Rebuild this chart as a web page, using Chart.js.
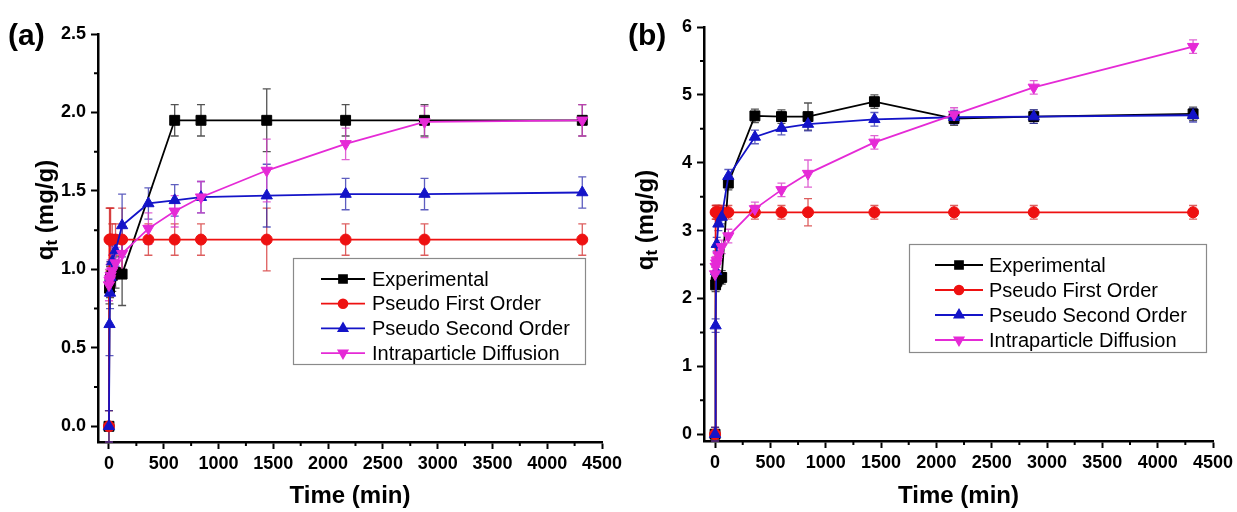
<!DOCTYPE html>
<html>
<head>
<meta charset="utf-8">
<title>Kinetics fits</title>
<script src="https://cdn.jsdelivr.net/npm/chart.js@4.4.1/dist/chart.umd.min.js"></script>
<style>
  body { margin: 0; background: #fff; }
  #wrap { position: relative; width: 1237px; height: 512px; overflow: hidden; }
  canvas { position: absolute; top: 0; }
  #chartA { left: 0; }
  #chartB { left: 618px; }
</style>
</head>
<body>
<div id="wrap">
  <canvas id="chartA" width="630" height="512"></canvas>
  <canvas id="chartB" width="619" height="512"></canvas>
</div>
<script>
// Sampling times (min), shared by every series
const times = [0, 5, 10, 15, 30, 60, 120, 360, 600, 840, 1440, 2160, 2880, 4320];
const seriesNames = ["Experimental", "Pseudo First Order", "Pseudo Second Order", "Intraparticle Diffusion"];

const xTickLabels = ["0", "500", "1000", "1500", "2000", "2500", "3000", "3500", "4000", "4500"];
const yTickLabelsA = ["0.0", "0.5", "1.0", "1.5", "2.0", "2.5"];
const yTickLabelsB = ["0", "1", "2", "3", "4", "5", "6"];

// Panel (a) values, q_t in mg/g
const expA   = [0, 0.88, 0.92, 0.95, 0.96, 0.98, 0.97, null, 1.95, 1.95, 1.95, 1.95, 1.95, 1.95];
const pfoA   = [0, 1.19, 1.19, 1.19, 1.19, 1.19, 1.19, 1.19, 1.19, 1.19, 1.19, 1.19, 1.19, 1.19];
const psoA   = [0, 0.65, 0.85, 0.95, 1.05, 1.12, 1.28, 1.42, 1.44, 1.46, 1.47, 1.48, 1.48, 1.49];
const idA    = [0.90, 0.93, 0.94, 0.96, 0.99, 1.04, 1.10, 1.26, 1.37, 1.46, 1.63, 1.80, 1.94, 1.95];
const expAErr = [0.1, 0.1, 0.1, 0.1, 0.1, 0.1, 0.2, null, 0.1, 0.1, 0.2, 0.1, 0.1, 0.1];
const pfoAErr = [0.1, 0.2, 0.2, 0.2, 0.1, 0.1, 0.2, 0.1, 0.1, 0.1, 0.2, 0.1, 0.1, 0.1];
const psoAErr = [0.1, 0.2, 0.1, 0.1, 0.1, 0.1, 0.2, 0.1, 0.1, 0.1, 0.2, 0.1, 0.1, 0.1];
const idAErr  = [0.1, 0.1, 0.1, 0.1, 0.1, 0.1, 0.1, 0.1, 0.1, 0.1, 0.2, 0.1, 0.1, 0.1];

// Panel (b) values, q_t in mg/g
const expB   = [0, 2.20, 2.24, 2.27, 2.29, 2.31, 3.70, 4.69, 4.68, 4.68, 4.90, 4.65, 4.68, 4.72];
const pfoB   = [0, 3.27, 3.27, 3.27, 3.27, 3.27, 3.27, 3.27, 3.27, 3.27, 3.27, 3.27, 3.27, 3.27];
const psoB   = [0, 1.60, 2.40, 2.80, 3.10, 3.20, 3.80, 4.38, 4.51, 4.57, 4.64, 4.67, 4.68, 4.70];
const idB    = [2.36, 2.47, 2.52, 2.56, 2.64, 2.76, 2.92, 3.32, 3.60, 3.84, 4.30, 4.71, 5.11, 5.71];
const expBErr = [0.1, 0.1, 0.1, 0.1, 0.1, 0.1, 0.1, 0.1, 0.1, 0.2, 0.1, 0.1, 0.1, 0.1];
const pfoBErr = [0.1, 0.1, 0.1, 0.1, 0.1, 0.1, 0.1, 0.1, 0.1, 0.2, 0.1, 0.1, 0.1, 0.1];
const psoBErr = [0.1, 0.1, 0.1, 0.1, 0.1, 0.1, 0.1, 0.1, 0.1, 0.1, 0.1, 0.1, 0.1, 0.1];
const idBErr  = [0.1, 0.1, 0.1, 0.1, 0.1, 0.1, 0.1, 0.1, 0.1, 0.2, 0.1, 0.1, 0.1, 0.1];

const FONT = "'Liberation Sans', Arial, sans-serif";
Chart.defaults.font.family = FONT;
Chart.defaults.color = "#000";

const seriesStyle = [
  { color: "#000000", errorColor: "rgba(40,40,40,0.8)",  pointStyle: "rect",     radius: 7,   rotation: 0,   order: 4 },
  { color: "#ee1111", errorColor: "rgba(210,40,40,0.75)", pointStyle: "circle",   radius: 5.5, rotation: 0,   order: 3 },
  { color: "#1414c8", errorColor: "rgba(40,40,170,0.75)", pointStyle: "triangle", radius: 6.5, rotation: 0,   order: 2 },
  { color: "#e52ad6", errorColor: "rgba(215,60,200,0.8)", pointStyle: "triangle", radius: 6.5, rotation: 180, order: 1 },
];

const panels = [
  {
    canvasId: "chartA", tag: "(a)", values: [expA, pfoA, psoA, idA], errors: [expAErr, pfoAErr, psoAErr, idAErr],
    yMin: -0.1, yMax: 2.5, yStep: 0.25, yLabels: yTickLabelsA,
    area: { left: 98, top: 34, right: 602, bottom: 442 }, width: 630,
    tagPos: { x: 8, y: 45 }, yTitle: { x: 46, y: 210 },
    legend: { left: 293, top: 258, width: 292, height: 106, row0: 21, rowGap: 24.7, sampleX: 28, sampleLen: 44, textX: 79 },
  },
  {
    canvasId: "chartB", tag: "(b)", values: [expB, pfoB, psoB, idB], errors: [expBErr, pfoBErr, psoBErr, idBErr],
    yMin: -0.1, yMax: 6, yStep: 0.5, yLabels: yTickLabelsB,
    area: { left: 86, top: 27, right: 595, bottom: 441 }, width: 619,
    tagPos: { x: 10, y: 45 }, yTitle: { x: 28, y: 220 },
    legend: { left: 291, top: 244, width: 297, height: 108, row0: 21, rowGap: 25, sampleX: 26, sampleLen: 48, textX: 80 },
  },
];

const near = (a, b) => Math.abs(a - b) < 1e-6;
const findLabel = (labels, value) => labels.find((l) => near(Number(l), value));

function makePlugin(panel) {
  return {
    id: "decor",
    // error bars under the lines and markers
    beforeDatasetsDraw(chart) {
      const { ctx, scales: { x, y } } = chart;
      ctx.save();
      ctx.lineWidth = 1.3;
      chart.data.datasets.forEach((ds) => {
        ctx.strokeStyle = ds.errorColor;
        ds.data.forEach((p) => {
          if (p.y == null || !p.err) return;
          const px = x.getPixelForValue(p.x);
          const top = y.getPixelForValue(p.y + p.err);
          const bot = y.getPixelForValue(p.y - p.err);
          ctx.beginPath();
          ctx.moveTo(px, top); ctx.lineTo(px, bot);
          ctx.moveTo(px - 4, top); ctx.lineTo(px + 4, top);
          ctx.moveTo(px - 4, bot); ctx.lineTo(px + 4, bot);
          ctx.stroke();
        });
      });
      ctx.restore();
    },
    afterDraw(chart) {
      const { ctx, chartArea, scales: { x, y } } = chart;
      ctx.save();

      // minor ticks
      ctx.strokeStyle = "#000";
      ctx.lineWidth = 2;
      ctx.beginPath();
      for (let v = 250; v < 4500; v += 500) {
        const px = x.getPixelForValue(v);
        ctx.moveTo(px, chartArea.bottom); ctx.lineTo(px, chartArea.bottom + 4);
      }
      for (let v = panel.yStep; v < panel.yMax; v += panel.yStep * 2) {
        const py = y.getPixelForValue(v);
        ctx.moveTo(chartArea.left, py); ctx.lineTo(chartArea.left - 4, py);
      }
      ctx.stroke();

      // panel tag
      ctx.fillStyle = "#000";
      ctx.font = `bold 30px ${FONT}`;
      ctx.textAlign = "left";
      ctx.textBaseline = "alphabetic";
      ctx.fillText(panel.tag, panel.tagPos.x, panel.tagPos.y);

      // y title with subscript t
      ctx.save();
      ctx.translate(panel.yTitle.x, panel.yTitle.y);
      ctx.rotate(-Math.PI / 2);
      ctx.textBaseline = "middle";
      const big = `bold 24px ${FONT}`, small = `bold 17px ${FONT}`;
      ctx.font = big; const wq = ctx.measureText("q").width; const wr = ctx.measureText(" (mg/g)").width;
      ctx.font = small; const wt = ctx.measureText("t").width;
      let cx = -(wq + wt + wr) / 2;
      ctx.font = big; ctx.fillText("q", cx, 0); cx += wq;
      ctx.font = small; ctx.fillText("t", cx, 6); cx += wt;
      ctx.font = big; ctx.fillText(" (mg/g)", cx, 0);
      ctx.restore();

      // legend box
      const lg = panel.legend;
      ctx.fillStyle = "#fff";
      ctx.fillRect(lg.left, lg.top, lg.width, lg.height);
      ctx.strokeStyle = "#8a8a8a";
      ctx.lineWidth = 1.2;
      ctx.strokeRect(lg.left + 0.5, lg.top + 0.5, lg.width, lg.height);
      ctx.font = `20px ${FONT}`;
      ctx.textBaseline = "middle";
      chart.data.datasets.forEach((ds, i) => {
        const ry = lg.top + lg.row0 + i * lg.rowGap;
        const sx = lg.left + lg.sampleX;
        ctx.strokeStyle = ds.borderColor;
        ctx.lineWidth = 1.8;
        ctx.beginPath();
        ctx.moveTo(sx, ry); ctx.lineTo(sx + lg.sampleLen, ry);
        ctx.stroke();
        ctx.fillStyle = ds.backgroundColor;
        Chart.helpers.drawPoint(ctx, {
          pointStyle: ds.pointStyle, radius: ds.pointRadius * 0.8, rotation: ds.rotation, borderWidth: 1,
        }, sx + lg.sampleLen / 2, ry);
        ctx.fillStyle = "#000";
        ctx.fillText(ds.label, lg.left + lg.textX, ry + 1);
      });
      ctx.restore();
    },
  };
}

function buildChart(panel) {
  const datasets = panel.values.map((vals, i) => {
    const st = seriesStyle[i];
    return {
      label: seriesNames[i],
      data: times.map((t, j) => ({ x: t, y: vals[j], err: panel.errors[i][j] })),
      borderColor: st.color,
      backgroundColor: st.color,
      errorColor: st.errorColor,
      borderWidth: 1.8,
      pointStyle: st.pointStyle,
      pointRadius: st.radius,
      rotation: st.rotation,
      pointBorderWidth: 1,
      order: st.order,
      spanGaps: true,
      tension: 0,
      clip: false,
    };
  });

  const { area } = panel;
  return new Chart(document.getElementById(panel.canvasId), {
    type: "line",
    data: { datasets },
    plugins: [makePlugin(panel)],
    options: {
      responsive: false,
      animation: false,
      events: [],
      layout: { padding: { left: 0, top: area.top, right: panel.width - area.right, bottom: 0 } },
      plugins: { legend: { display: false }, tooltip: { enabled: false } },
      scales: {
        x: {
          type: "linear",
          min: -100,
          max: 4500,
          afterFit: (s) => { s.height = 512 - area.bottom; s.paddingLeft = 0; s.paddingRight = 0; },
          border: { display: true, color: "#000", width: 2.5 },
          grid: {
            drawOnChartArea: false,
            tickLength: 7,
            tickWidth: 2,
            tickColor: (c) => (findLabel(xTickLabels, c.tick.value) ? "#000" : "rgba(0,0,0,0)"),
          },
          ticks: {
            stepSize: 250,
            includeBounds: false,
            autoSkip: false,
            maxRotation: 0,
            padding: 4,
            font: { size: 18, weight: "bold" },
            callback: (v) => findLabel(xTickLabels, v) || "",
          },
          title: {
            display: true,
            text: "Time (min)",
            font: { size: 24, weight: "bold" },
            padding: { top: 0, bottom: 1 },
          },
        },
        y: {
          type: "linear",
          min: panel.yMin,
          max: panel.yMax,
          afterFit: (s) => { s.width = area.left; s.paddingTop = 0; s.paddingBottom = 0; },
          border: { display: true, color: "#000", width: 2.5 },
          grid: {
            drawOnChartArea: false,
            tickLength: 7,
            tickWidth: 2,
            tickColor: (c) => (findLabel(panel.yLabels, c.tick.value) ? "#000" : "rgba(0,0,0,0)"),
          },
          ticks: {
            stepSize: panel.yStep,
            includeBounds: false,
            autoSkip: false,
            padding: 5,
            font: { size: 18, weight: "bold" },
            callback: (v) => findLabel(panel.yLabels, v) || "",
          },
        },
      },
    },
  });
}

panels.forEach(buildChart);
</script>
</body>
</html>
